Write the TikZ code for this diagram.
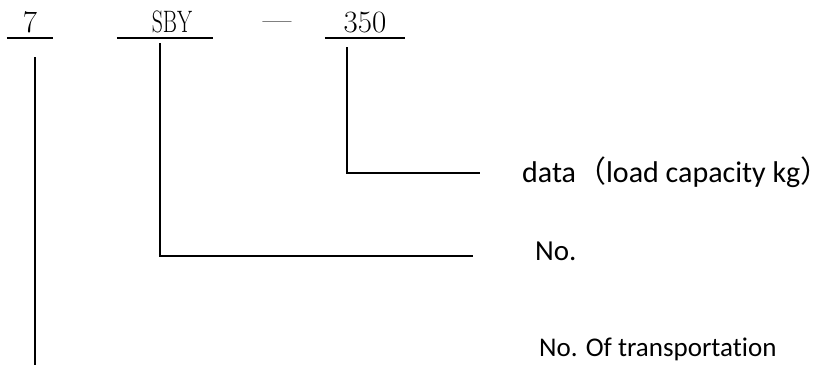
\documentclass[tikz,border=0pt]{standalone}
\usepackage{fontspec}
\usepackage{graphicx}
\newfontfamily\calibri[Ligatures=NoCommon]{Carlito}
\newfontfamily\cjk{Noto Sans CJK SC}
\tikzset{
	code/.style={anchor=south,inner xsep=0pt,inner ysep=5pt,text depth=0pt,font=\fontsize{31}{33}\selectfont},
	lbl/.style={anchor=base west,inner sep=0pt,font=\calibri\fontsize{29}{32}\selectfont},
	lead/.style={line width=1.6pt}
}
\begin{document}
\begin{tikzpicture}[x=1pt,y=-1pt]
		\useasboundingbox (0,0) rectangle (836,365);
		\node[code,minimum width=46pt] (t7) at (30,38) {7};
		\node[code,minimum width=96pt] (tsby) at (165,38) {\hspace{14pt}\scalebox{0.7}[1]{SBY}};
		\node[code] (tdash) at (277,36) {—};
		\node[code,minimum width=80pt] (t350) at (365,38) {350};
		\draw[lead] (t7.south west) -- (t7.south east);
		\draw[lead] (tsby.south west) -- (tsby.south east);
		\draw[lead] (t350.south west) -- (t350.south east);
		\coordinate (a7) at (35,57);
		\coordinate (b7) at (35,365);
		\coordinate (asby) at (160,43);
		\coordinate (bsby) at (473,256);
		\coordinate (a350) at (347,47);
		\coordinate (b350) at (480,173);
		\draw[lead] (a7) -- (b7);
		\draw[lead] (asby) |- (bsby);
		\draw[lead] (a350) |- (b350);
		\node[lbl,font=\calibri\fontsize{30}{33}\selectfont] (ldata) at (522,182) {data{\cjk （}load capacity kg{\cjk ）}};
		\node[lbl] (lno) at (535,260) {No.};
		\node[lbl,font=\calibri\fontsize{27}{30}\selectfont] (ltrans) at (539,356) {No. Of transportation};
\end{tikzpicture}
\end{document}
